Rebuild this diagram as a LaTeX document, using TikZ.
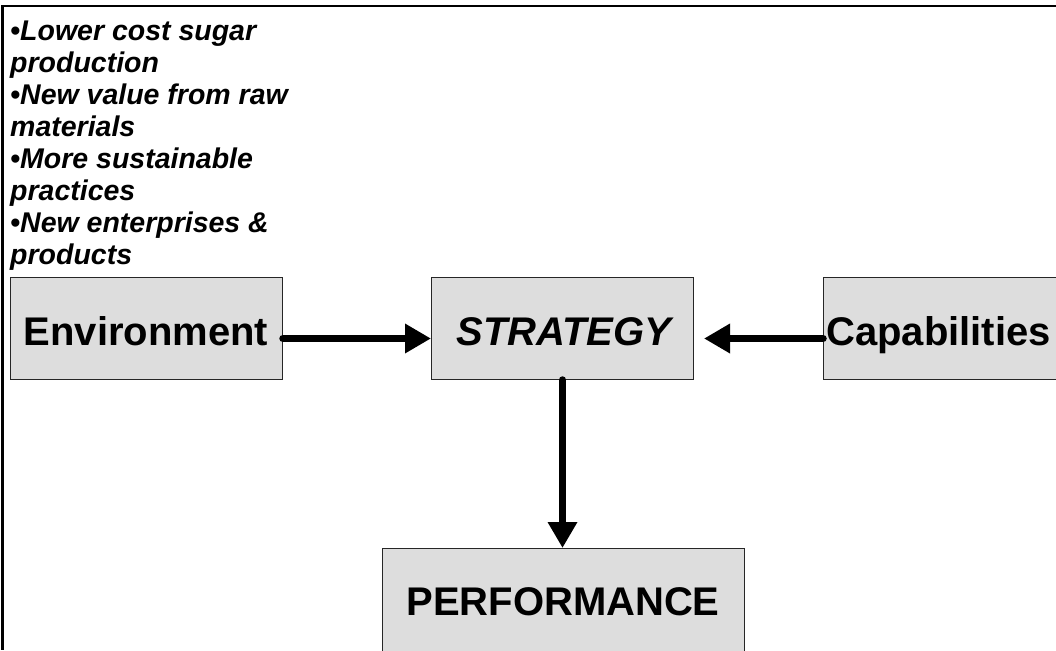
\documentclass[tikz,border=0pt]{standalone}
\usepackage{fontspec}
\setmainfont{Liberation Sans}
\usetikzlibrary{arrows.meta}
\definecolor{boxgray}{HTML}{DDDDDD}
\begin{document}
\begin{tikzpicture}[x=1pt,y=-1pt,
  box/.style={draw=black!85, line width=1pt, fill=boxgray, inner sep=0pt, anchor=north west},
  lbl/.style={font=\fontsize{40}{48}\selectfont\bfseries, anchor=base, inner sep=0pt},
  conn/.style={line width=7.5pt, line cap=round, -{Triangle[length=26pt,width=28pt]}},
  frame/.style={line width=2.5pt}]
\clip (0,0) rectangle (1056,650);
\draw[frame] (1056,6) -- (2.5,6) -- (2.5,650);
\node[box, minimum width=272pt, minimum height=102pt] (env) at (10,277) {};
\node[box, minimum width=262pt, minimum height=102pt] (strat) at (431,277) {};
\node[box, minimum width=280pt, minimum height=102pt] (cap) at (823,277) {};
\node[box, minimum width=362pt, minimum height=150pt] (perf) at (382,548) {};
\node[lbl] (envt) at (146,345) {Environment};
\node[lbl, font=\fontsize{40}{48}\selectfont\bfseries\itshape] (stratt) at (564,345) {STRATEGY};
\node[lbl, anchor=base west] (capt) at (826,345) {Capabilities};
\node[lbl] (perft) at (563,615) {PERFORMANCE};
\node[anchor=north west, inner sep=0pt, align=left,
      font=\fontsize{28.5}{32}\selectfont\bfseries\itshape] (bul) at (10,21)
  {•Lower cost sugar\\production\\•New value from raw\\materials\\•More sustainable\\practices\\•New enterprises \&\\products};
\draw[conn] ([yshift=-10pt]env.east) -- ([yshift=-10pt]strat.west);
\draw[conn] ([yshift=-10pt]cap.west) -- ([xshift=10pt,yshift=-10pt]strat.east);
\draw[conn] (strat.south) -- (strat.south |- perf.north);
\end{tikzpicture}
\end{document}
